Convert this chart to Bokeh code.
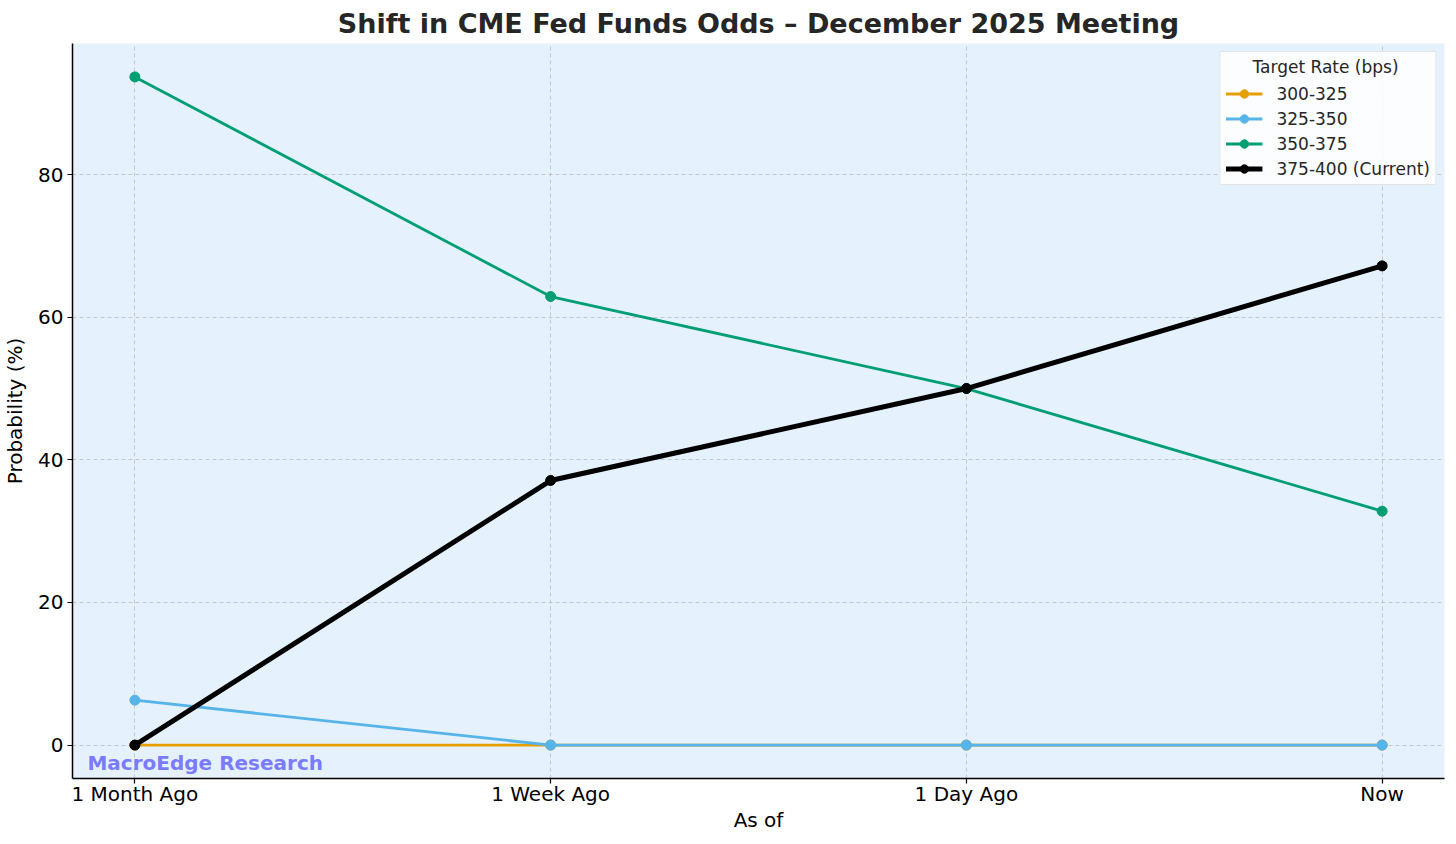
from bokeh.plotting import figure
from bokeh.models import ColumnDataSource, FixedTicker, Label, Legend, LegendItem, Range1d
from bokeh.embed import file_html
from bokeh.resources import INLINE

# ---- data ----
periods = ["1 Month Ago", "1 Week Ago", "1 Day Ago", "Now"]
x_pos = [0, 1, 2, 3]
s_300_325 = [0.0, 0.0, 0.0, 0.0]
s_325_350 = [6.3, 0.0, 0.0, 0.0]
s_350_375 = [93.7, 62.9, 50.0, 32.8]
s_375_400 = [0.0, 37.1, 50.0, 67.2]
series_names = ["300-325", "325-350", "350-375", "375-400 (Current)"]
y_ticks = [0, 20, 40, 60, 80]

FONT = "DejaVu Sans"

p = figure(width=1456, height=844, output_backend="svg", toolbar_location=None,
           x_range=Range1d(-0.15, 3.15), y_range=Range1d(-4.685, 98.385),
           min_border_left=71, min_border_right=12, min_border_top=43, min_border_bottom=66)

p.background_fill_color = "#e5f1fd"
p.border_fill_color = "white"
p.outline_line_color = None

p.title.text = "Shift in CME Fed Funds Odds \u2013 December 2025 Meeting"
p.title.align = "center"
p.title.text_font = FONT
p.title.text_font_size = "27px"
p.title.text_font_style = "bold"
p.title.text_color = "#262626"
p.title.standoff = 10

for ax in (p.xaxis[0], p.yaxis[0]):
    ax.major_label_text_font = FONT
    ax.major_label_text_font_size = "20px"
    ax.major_label_text_color = "black"
    ax.axis_label_text_font = FONT
    ax.axis_label_text_font_size = "20px"
    ax.axis_label_text_font_style = "normal"
    ax.axis_label_text_color = "black"
    ax.axis_line_color = "black"
    ax.axis_line_width = 1.5
    ax.major_tick_line_color = "black"
    ax.major_tick_line_width = 1.2
    ax.major_tick_in = 0
    ax.major_tick_out = 5
    ax.minor_tick_line_color = None

p.xaxis.ticker = FixedTicker(ticks=x_pos)
p.xaxis.major_label_overrides = {x: lab for x, lab in zip(x_pos, periods)}
p.xaxis.axis_label = "As of"
p.xaxis.major_label_standoff = -2
p.xaxis.axis_label_standoff = -1
p.yaxis.ticker = FixedTicker(ticks=y_ticks)
p.yaxis.axis_label = "Probability (%)"
p.yaxis.major_label_standoff = 4
p.yaxis.axis_label_standoff = 8

for g in (p.xgrid[0], p.ygrid[0]):
    g.grid_line_color = "#b0b0b0"
    g.grid_line_dash = "4 3"
    g.grid_line_width = 0.8
    g.grid_line_alpha = 0.8

colors = ["#E69F00", "#56B4E9", "#009E73", "black"]
widths = [2.8, 2.8, 2.8, 5]
data = [s_300_325, s_325_350, s_350_375, s_375_400]

items = []
for name, col, w, ys in zip(series_names, colors, widths, data):
    src = ColumnDataSource(dict(x=x_pos, y=ys))
    r1 = p.line("x", "y", source=src, line_color=col, line_width=w)
    r2 = p.scatter("x", "y", source=src, size=10, fill_color=col, line_color=col)
    items.append(LegendItem(label=name, renderers=[r1, r2]))

legend = Legend(items=items, location="top_right")
legend.title = "\u00a0" * 5 + "Target Rate (bps)"
legend.title_text_font = FONT
legend.title_text_font_size = "17px"
legend.title_text_font_style = "normal"
legend.title_text_color = "#262626"
legend.title_standoff = 6
legend.label_text_font = FONT
legend.label_text_font_size = "17px"
legend.label_text_color = "#262626"
legend.label_standoff = 14
legend.glyph_width = 37
legend.glyph_height = 21
legend.label_height = 21
legend.spacing = 4
legend.padding = 5
legend.margin = 8
legend.border_line_color = "#cccccc"
legend.border_line_width = 1
legend.background_fill_color = "white"
legend.background_fill_alpha = 0.85
p.add_layout(legend)

wm = Label(x=-0.114, y=-2.58, text="MacroEdge Research", text_font=FONT,
           text_font_size="20px", text_font_style="bold", text_color="#7b7bff",
           text_baseline="alphabetic")
p.add_layout(wm)

open("out.html", "w").write(file_html(p, INLINE))
